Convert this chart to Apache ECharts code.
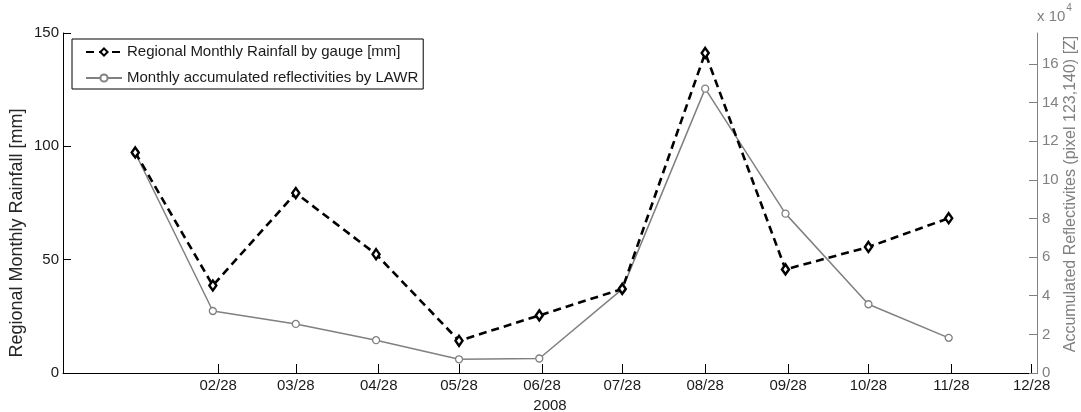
<!DOCTYPE html>
<html>
<head>
<meta charset="utf-8">
<script src="https://cdn.jsdelivr.net/npm/echarts@6/dist/echarts.min.js"></script>
<style>
html,body{margin:0;padding:0;background:#fff;}
#chart{width:1081px;height:412px;}
</style>
</head>
<body>
<div id="chart"></div>
<script>
// ---- data ----
var dates = ['2008-01-28','2008-02-26','2008-03-28','2008-04-27','2008-05-28','2008-06-27','2008-07-28','2008-08-28','2008-09-27','2008-10-28','2008-11-27'];
var rainfall = [97.3, 38.6, 79.4, 52.4, 14.2, 25.4, 37.1, 141.2, 45.7, 55.6, 68.3];
var reflectivity = [113900, 32100, 25400, 17000, 7100, 7500, 43400, 147200, 82500, 35600, 18200];
var xTickDates = ['2008-02-28','2008-03-28','2008-04-28','2008-05-28','2008-06-28','2008-07-28','2008-08-28','2008-09-28','2008-10-28','2008-11-28','2008-12-28'];
var xRange = ['2008-01-01','2008-12-30'];
var leftTicks = [0, 50, 100, 150];
var rightTicks = [0, 20000, 40000, 60000, 80000, 100000, 120000, 140000, 160000];
var rightMax = 176000;
var seriesNames = ['Regional Monthly Rainfall by gauge [mm]', 'Monthly accumulated reflectivities by LAWR'];
var leftAxisTitle = 'Regional Monthly Rainfall [mm]';
var rightAxisTitle = 'Accumulated Reflectivites (pixel 123,140) [Z]';
var xAxisTitle = '2008';

var DAY = 86400000;
function toDay(s){ var p = s.split('-'); return Math.round(Date.UTC(+p[0], +p[1]-1, +p[2]) / DAY); }
function pad(n){ return (n<10?'0':'')+n; }

var FONT = '"Liberation Sans", Arial, Helvetica, sans-serif';
var GRAY = '#808080';
var DARK = '#1a1a1a';

var chart = echarts.init(document.getElementById('chart'), null, {renderer:'canvas'});
var option = {
  animation: false,
  backgroundColor: '#fff',
  textStyle: {fontFamily: FONT},
  grid: {left: 63, right: 44, top: 33, bottom: 39, containLabel: false, outerBoundsMode: 'none'},
  legend: {
    orient: 'vertical',
    left: 72, top: 39,
    padding: [5, 5, 3, 13],
    itemGap: 10,
    itemWidth: 36, itemHeight: 9,
    backgroundColor: '#fff',
    borderColor: '#000', borderWidth: 1,
    borderRadius: 0,
    textStyle: {fontFamily: FONT, fontSize: 15, color: DARK, lineHeight: 16},
    data: [seriesNames[0], seriesNames[1]]
  },
  xAxis: {
    type: 'value',
    min: toDay(xRange[0]), max: toDay(xRange[1]),
    name: xAxisTitle, nameLocation: 'middle', nameGap: 22,
    nameTextStyle: {fontFamily: FONT, fontSize: 15, color: DARK},
    axisLine: {show: true, lineStyle: {color: '#000', width: 1}},
    axisTick: {show: true, inside: true, length: 9, lineStyle: {color: '#000'}, customValues: xTickDates.map(toDay)},
    axisLabel: {
      fontFamily: FONT, fontSize: 15, color: DARK, margin: 5,
      customValues: xTickDates.map(toDay),
      formatter: function(v){ var d = new Date(v * DAY); return pad(d.getUTCMonth()+1) + '/' + pad(d.getUTCDate()); }
    },
    splitLine: {show: false}
  },
  yAxis: [
    {
      type: 'value', position: 'left', min: 0, max: 150,
      axisLine: {show: true, lineStyle: {color: '#000', width: 1}},
      axisTick: {show: true, inside: true, length: 8, lineStyle: {color: '#000'}, customValues: leftTicks},
      axisLabel: {fontFamily: FONT, fontSize: 15, color: DARK, margin: 4, customValues: leftTicks},
      splitLine: {show: false}
    },
    {
      type: 'value', position: 'right', min: 0, max: rightMax,
      axisLine: {show: true, lineStyle: {color: GRAY, width: 1}},
      axisTick: {show: true, inside: true, length: 8, lineStyle: {color: GRAY}, customValues: rightTicks},
      axisLabel: {fontFamily: FONT, fontSize: 15, color: GRAY, margin: 5, customValues: rightTicks,
        formatter: function(v){ return String(Math.round(v/10000)); }},
      splitLine: {show: false}
    }
  ],
  graphic: [
    {type: 'text', x: 17, y: 233, rotation: Math.PI/2,
      style: {text: leftAxisTitle, fill: '#262626', font: '18px ' + FONT, align: 'center', verticalAlign: 'middle'}},
    {type: 'text', x: 1071, y: 194, rotation: Math.PI/2,
      style: {text: rightAxisTitle, fill: GRAY, font: '16px ' + FONT, align: 'center', verticalAlign: 'middle'}},
    {type: 'text', left: 1037, top: 3,
      style: {text: '{a|x 10}{b|4}', fill: GRAY,
        rich: {a: {fontFamily: FONT, fontSize: 15, color: GRAY, padding: [10,0,0,0]},
               b: {fontFamily: FONT, fontSize: 10, color: GRAY, padding: [0,0,7,1]}}}}
  ],
  series: [
    {
      name: seriesNames[1], type: 'line', yAxisIndex: 1,
      data: dates.map(function(d,i){ return [toDay(d), reflectivity[i]]; }),
      symbol: 'circle', symbolSize: 7, showSymbol: true,
      lineStyle: {color: GRAY, width: 1.5},
      itemStyle: {color: '#fff', borderColor: GRAY, borderWidth: 1.3},
      z: 2
    },
    {
      name: seriesNames[0], type: 'line', yAxisIndex: 0,
      data: dates.map(function(d,i){ return [toDay(d), rainfall[i]]; }),
      symbol: 'diamond', symbolSize: [7, 10], showSymbol: true,
      lineStyle: {color: '#000', width: 2.6, type: [8, 5]},
      itemStyle: {color: '#fff', borderColor: '#000', borderWidth: 2.5},
      z: 3
    }
  ]
};
chart.setOption(option);
</script>
</body>
</html>
